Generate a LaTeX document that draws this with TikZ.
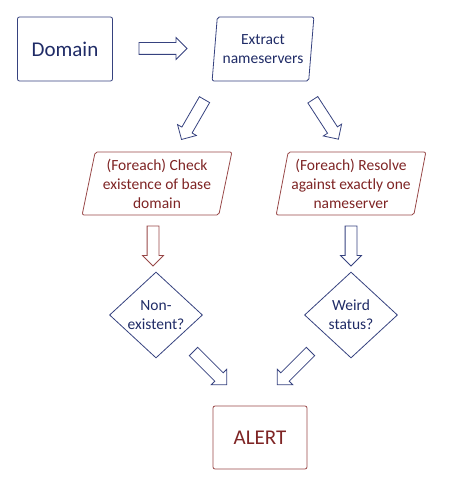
\documentclass[tikz,border=0pt]{standalone}
\usepackage{fontspec}
\setmainfont{Carlito}
\usetikzlibrary{shapes.geometric,shapes.arrows,positioning}
\definecolor{inkblue}{HTML}{36427F}
\definecolor{textblue}{HTML}{1F2B66}
\definecolor{inkred}{HTML}{984848}
\definecolor{textred}{HTML}{7E2424}

\begin{document}
\begin{tikzpicture}[x=1pt,y=-1pt,
                   every node/.style = {align=center, line width=0.8pt,
                   inner sep=0pt},
                   blue/.style = {draw=inkblue, text=textblue},
                   red/.style = {draw=inkred, text=textred},
                   box/.style = {rectangle, draw, rounded corners=2pt,
                   minimum width=95pt, minimum height=64pt,
                   font=\fontsize{21}{25}\selectfont},
                   slant/.style = {trapezium, draw, trapezium stretches=true,
                   rounded corners=2pt, font=\fontsize{15.5}{19}\selectfont},
                   decision/.style = {diamond, draw, minimum width=93pt,
                   minimum height=86pt, font=\fontsize{15.5}{19}\selectfont},
                   bigarrow/.style = {single arrow, draw, inner xsep=0pt,
                   inner ysep=5.5pt, single arrow head extend=5pt,
                   single arrow tip angle=90}]
  \useasboundingbox (0,0) rectangle (466,481);

  % boxes
  \node[box, blue] (domain) at (65,49) {Domain};
  \node[slant, blue, minimum width=102pt, minimum height=64pt,
        trapezium left angle=81, trapezium right angle=99]
        (extract) at (263,49) {Extract\\nameservers};
  \node[slant, red, minimum width=150pt, minimum height=63pt,
        trapezium left angle=77, trapezium right angle=103]
        (check) at (157,183.5) {(Foreach) Check\\existence of base\\domain};
  \node[slant, red, minimum width=150pt, minimum height=63pt,
        trapezium left angle=77, trapezium right angle=103]
        (resolve) at (351,183.5) {(Foreach) Resolve\\against exactly one\\nameserver};
  \node[decision, blue] (nonex) at (156,315) {Non-\\existent?};
  \node[decision, blue] (weird) at (351,315) {Weird\\status?};
  \node[box, red, minimum width=94pt, minimum height=63pt] (alert) at (260,437.5) {ALERT};

  % block arrows
  \node[bigarrow, blue, minimum height=48pt] (a1) at (160,48.5) {};
  \node[bigarrow, blue, minimum height=46pt, rotate=240] (a2) at (194.5,117) {};
  \node[bigarrow, blue, minimum height=47pt, rotate=-57] (a3) at (324,117) {};
  \node[bigarrow, red, minimum height=40pt, single arrow head extend=4.5pt,
        rotate=-90] (a4) at (153,243) {};
  \node[bigarrow, blue, minimum height=40pt, single arrow head extend=4.5pt,
        rotate=-90] (a5) at (351,243) {};
  \node[bigarrow, blue, minimum height=47pt, rotate=-45] (a6) at (208,366) {};
  \node[bigarrow, blue, minimum height=47pt, rotate=-135] (a7) at (296,366) {};
\end{tikzpicture}
\end{document}
